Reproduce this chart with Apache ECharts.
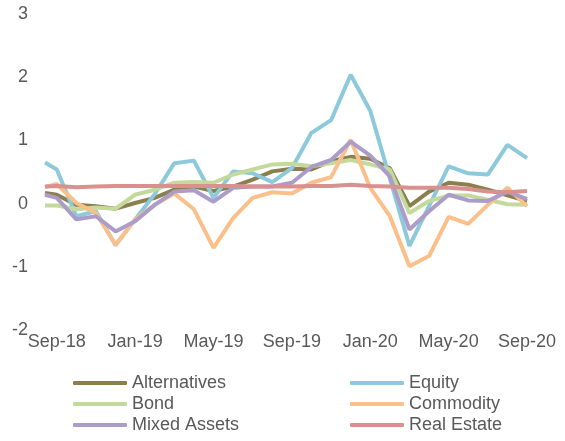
<!DOCTYPE html>
<html>
<head>
<meta charset="utf-8">
<script src="https://cdn.jsdelivr.net/npm/echarts@6/dist/echarts.min.js"></script>
<style>
  html, body { margin: 0; padding: 0; background: #fff; }
  #chart { width: 565px; height: 441px; }
</style>
</head>
<body>
<div id="chart"></div>
<script>
// months counted from Sep-18 (first observation sits a little before Sep-18)
const months = [-0.6, 0, 1, 2, 3, 4, 5, 6, 7, 8, 9, 10, 11, 12, 13, 14, 15, 16, 17, 18, 19, 20, 21, 22, 23, 24]
const tickMonths = [0, 4, 8, 12, 16, 20, 24]
const tickLabels = ['Sep-18', 'Jan-19', 'May-19', 'Sep-19', 'Jan-20', 'May-20', 'Sep-20']

const alternatives = [0.17, 0.14, -0.02, -0.04, -0.08, 0.01, 0.09, 0.22, 0.27, 0.20, 0.27, 0.38, 0.51, 0.55, 0.54, 0.67, 0.74, 0.71, 0.56, -0.04, 0.19, 0.33, 0.30, 0.22, 0.13, 0.04]
const equity = [0.65, 0.54, -0.20, -0.12, -0.66, -0.25, 0.15, 0.64, 0.68, 0.09, 0.51, 0.48, 0.34, 0.56, 1.12, 1.32, 2.04, 1.47, 0.40, -0.67, -0.04, 0.59, 0.48, 0.46, 0.93, 0.72]
const bond = [-0.03, -0.03, -0.09, -0.06, -0.08, 0.14, 0.22, 0.33, 0.34, 0.33, 0.46, 0.54, 0.62, 0.63, 0.59, 0.64, 0.69, 0.62, 0.54, -0.15, 0.04, 0.13, 0.13, 0.06, -0.01, -0.02]
const commodity = [0.26, 0.31, 0.01, -0.15, -0.65, -0.25, -0.02, 0.16, -0.09, -0.70, -0.23, 0.09, 0.18, 0.16, 0.33, 0.42, 1.01, 0.25, -0.20, -0.99, -0.83, -0.21, -0.32, -0.02, 0.25, -0.04]
const mixedAssets = [0.14, 0.09, -0.25, -0.20, -0.44, -0.28, -0.02, 0.19, 0.21, 0.03, 0.25, 0.27, 0.27, 0.33, 0.58, 0.69, 0.98, 0.76, 0.43, -0.41, -0.12, 0.14, 0.05, 0.04, 0.19, 0.07]
const realEstate = [0.27, 0.28, 0.26, 0.27, 0.28, 0.28, 0.28, 0.28, 0.28, 0.28, 0.28, 0.27, 0.27, 0.27, 0.28, 0.28, 0.30, 0.28, 0.27, 0.25, 0.25, 0.25, 0.23, 0.19, 0.18, 0.20]

const seriesNames = ['Alternatives', 'Equity', 'Bond', 'Commodity', 'Mixed Assets', 'Real Estate']
const seriesValues = [alternatives, equity, bond, commodity, mixedAssets, realEstate]
const seriesColors = ['#8b7e4f', '#8ccadb', '#c4da9c', '#fbbf8a', '#ab9cc9', '#d9908f']

const textColor = '#595959'
const font = "'Liberation Sans', Arial, sans-serif"

const chart = echarts.init(document.getElementById('chart'), null, { renderer: 'canvas' })

const legendBase = {
  orient: 'vertical',
  top: 374,
  padding: 0,
  itemWidth: 54,
  itemHeight: 4,
  itemGap: 3,
  icon: 'roundRect',
  textStyle: { color: textColor, fontSize: 18, fontFamily: font, lineHeight: 18 }
}

chart.setOption({
  animation: false,
  grid: { left: 45, right: 38, top: 14, bottom: 111 },
  legend: [
    { ...legendBase, left: 73, data: ['Alternatives', 'Bond', 'Mixed Assets'] },
    { ...legendBase, left: 350, data: ['Equity', 'Commodity', 'Real Estate'] }
  ],
  xAxis: {
    type: 'value',
    min: months[0],
    max: months[months.length - 1],
    axisLine: { show: false },
    axisTick: { show: false },
    splitLine: { show: false },
    axisLabel: {
      customValues: tickMonths,
      margin: 3,
      color: textColor,
      fontSize: 18,
      fontFamily: font,
      formatter: v => tickLabels[tickMonths.indexOf(Math.round(v))] ?? ''
    }
  },
  yAxis: {
    type: 'value',
    min: -2,
    max: 3,
    interval: 1,
    axisLine: { show: false },
    axisTick: { show: false },
    splitLine: { show: false },
    axisLabel: { margin: 17, color: textColor, fontSize: 18, fontFamily: font }
  },
  series: seriesNames.map((name, i) => ({
    name,
    type: 'line',
    symbol: 'none',
    color: seriesColors[i],
    lineStyle: { width: 4, color: seriesColors[i] },
    data: months.map((m, j) => [m, seriesValues[i][j]])
  }))
})
</script>
</body>
</html>
